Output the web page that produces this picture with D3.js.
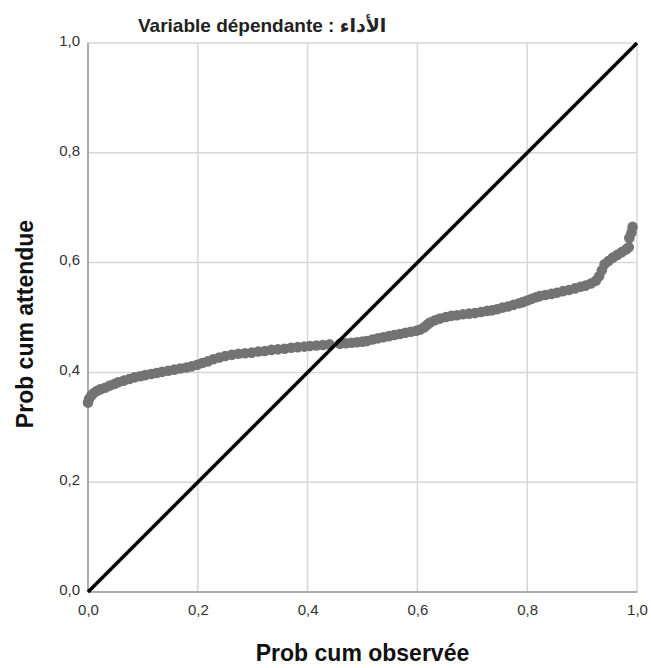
<!DOCTYPE html>
<meta charset="utf-8">
<head>
    <title>P-P plot</title>
    <script type="text/javascript" src="https://cdn.jsdelivr.net/npm/d3@7"></script>
    <style type="text/css">
        body { margin: 0; background: #fff; }
        text { font-family: "Liberation Sans", "DejaVu Sans", Arial, sans-serif; }
    </style>
</head>
<body>
    <div id="chart"></div>
    <script>
        // values
        var observed = [0.000, 0.002, 0.006, 0.010, 0.016, 0.022, 0.031, 0.040, 0.048, 0.055,
            0.065, 0.075, 0.085, 0.095, 0.104, 0.115, 0.125, 0.135, 0.146, 0.157,
            0.168, 0.179, 0.189, 0.199, 0.208, 0.218, 0.228, 0.239, 0.250, 0.262,
            0.274, 0.286, 0.298, 0.310, 0.322, 0.334, 0.346, 0.358, 0.370, 0.382,
            0.394, 0.404, 0.416, 0.428, 0.440, 0.459, 0.470, 0.480, 0.490, 0.500,
            0.508, 0.518, 0.528, 0.538, 0.548, 0.558, 0.568, 0.578, 0.588, 0.598,
            0.605, 0.612, 0.618, 0.623, 0.632, 0.641, 0.652, 0.662, 0.672, 0.683,
            0.694, 0.705, 0.716, 0.727, 0.736, 0.745, 0.755, 0.765, 0.775, 0.785,
            0.792, 0.800, 0.808, 0.816, 0.823, 0.833, 0.844, 0.854, 0.865, 0.876,
            0.887, 0.897, 0.906, 0.916, 0.925, 0.931, 0.936, 0.941, 0.948, 0.956,
            0.964, 0.972, 0.980, 0.985, 0.986, 0.990, 0.992];
        var expected = [0.345, 0.352, 0.358, 0.362, 0.366, 0.369, 0.372, 0.376, 0.379, 0.382,
            0.385, 0.388, 0.391, 0.393, 0.395, 0.397, 0.399, 0.401, 0.403, 0.405,
            0.407, 0.409, 0.411, 0.414, 0.417, 0.420, 0.424, 0.427, 0.430, 0.432,
            0.434, 0.435, 0.436, 0.438, 0.439, 0.441, 0.442, 0.443, 0.445, 0.446,
            0.447, 0.448, 0.449, 0.450, 0.451, 0.452, 0.453, 0.454, 0.455, 0.456,
            0.457, 0.460, 0.462, 0.464, 0.466, 0.468, 0.470, 0.472, 0.474, 0.476,
            0.478, 0.482, 0.487, 0.491, 0.495, 0.498, 0.501, 0.503, 0.504, 0.506,
            0.507, 0.508, 0.510, 0.512, 0.513, 0.515, 0.518, 0.520, 0.523, 0.526,
            0.528, 0.531, 0.534, 0.537, 0.539, 0.541, 0.543, 0.545, 0.548, 0.550,
            0.553, 0.556, 0.558, 0.562, 0.567, 0.575, 0.586, 0.597, 0.603, 0.609,
            0.614, 0.619, 0.624, 0.628, 0.645, 0.655, 0.665];
        var tickValues = [0, 0.2, 0.4, 0.6, 0.8, 1.0];
        var tickLabels = ["0,0", "0,2", "0,4", "0,6", "0,8", "1,0"];
        var diagonal = [[0, 0], [1, 1]];

        var width = 651, height = 668;
        var margin = {top: 43, right: 14, bottom: 76, left: 88};
        var plotW = width - margin.left - margin.right;
        var plotH = height - margin.top - margin.bottom;

        var svg = d3.select("#chart").append("svg")
            .attr("width", width)
            .attr("height", height);

        var x = d3.scaleLinear().domain([0, 1]).range([margin.left, margin.left + plotW]);
        var y = d3.scaleLinear().domain([0, 1]).range([margin.top + plotH, margin.top]);

        // grid lines
        svg.append("g").selectAll("line.vg")
            .data(tickValues.slice(1, 5))
            .enter().append("line")
            .attr("x1", d => x(d)).attr("x2", d => x(d))
            .attr("y1", y(0)).attr("y2", y(1))
            .attr("stroke", "#d6d6d6").attr("stroke-width", 1.5);
        svg.append("g").selectAll("line.hg")
            .data(tickValues.slice(1, 5))
            .enter().append("line")
            .attr("y1", d => y(d)).attr("y2", d => y(d))
            .attr("x1", x(0)).attr("x2", x(1))
            .attr("stroke", "#d6d6d6").attr("stroke-width", 1.5);

        // frame
        svg.append("rect")
            .attr("x", x(0)).attr("y", y(1))
            .attr("width", plotW).attr("height", plotH)
            .attr("fill", "none")
            .attr("stroke", "#d6d6d6").attr("stroke-width", 1.5);
        svg.append("line")
            .attr("x1", x(0)).attr("x2", x(0)).attr("y1", y(0)).attr("y2", y(1))
            .attr("stroke", "#9a9a9a").attr("stroke-width", 1.5);
        svg.append("line")
            .attr("x1", x(0)).attr("x2", x(1)).attr("y1", y(0)).attr("y2", y(0))
            .attr("stroke", "#9a9a9a").attr("stroke-width", 1.5);

        // axes with labels only
        var xAxis = d3.axisBottom(x).tickValues(tickValues).tickSize(0)
            .tickFormat((d, i) => tickLabels[i]);
        var gx = svg.append("g").attr("transform", "translate(0," + y(0) + ")").call(xAxis);
        gx.select(".domain").remove();
        gx.selectAll("text").attr("dy", "1.3em").style("font-size", "15px").attr("fill", "#333");

        var yAxis = d3.axisLeft(y).tickValues(tickValues).tickSize(0)
            .tickFormat((d, i) => tickLabels[i]);
        var gy = svg.append("g").attr("transform", "translate(" + x(0) + ",0)").call(yAxis);
        gy.select(".domain").remove();
        gy.selectAll("text").attr("x", -8).attr("dy", "0.15em").style("font-size", "15px").attr("fill", "#333");

        // points
        svg.append("g").selectAll("circle")
            .data(observed)
            .enter().append("circle")
            .attr("cx", d => x(d))
            .attr("cy", (d, i) => y(expected[i]))
            .attr("r", 5.3)
            .attr("fill", "#737373");

        // reference line
        svg.append("path")
            .datum(diagonal)
            .attr("d", d3.line().x(d => x(d[0])).y(d => y(d[1])))
            .attr("stroke", "#000").attr("stroke-width", 3.5).attr("fill", "none");

        // titles
        svg.append("text")
            .attr("x", 138).attr("y", 32)
            .style("font-size", "19px").style("font-weight", "bold")
            .attr("fill", "#222")
            .text("Variable dépendante : \u200Eالأداء");
        svg.append("text")
            .attr("x", x(0.5)).attr("y", 661)
            .attr("text-anchor", "middle")
            .style("font-size", "23px").style("font-weight", "bold")
            .attr("fill", "#111")
            .text("Prob cum observée");
        svg.append("text")
            .attr("transform", "translate(33," + 324 + ") rotate(-90)")
            .attr("text-anchor", "middle")
            .style("font-size", "23px").style("font-weight", "bold")
            .attr("fill", "#111")
            .text("Prob cum attendue");
    </script>
</body>
</html>
